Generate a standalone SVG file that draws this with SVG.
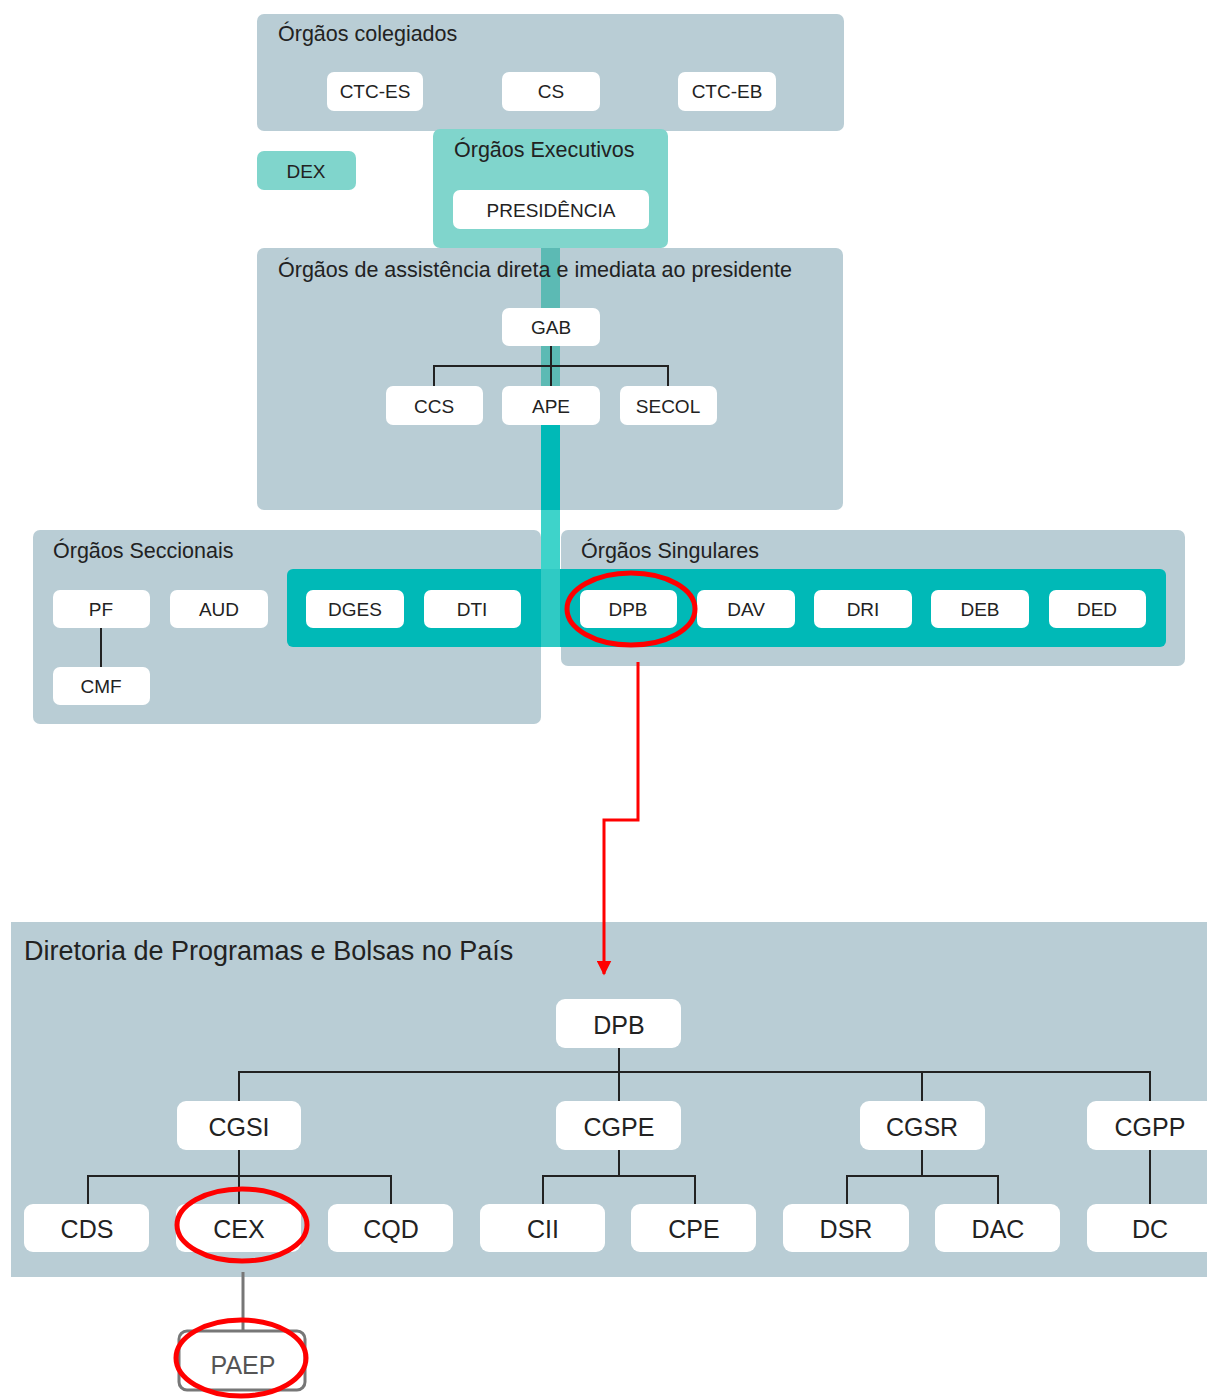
<svg xmlns="http://www.w3.org/2000/svg" width="1207" height="1399" viewBox="0 0 1207 1399">
<style>
.grp{fill:#b9cdd5}
.tl{fill:#80d5cc}
.bar{fill:#00b9b7}
.n{fill:#fff}
.t{font-family:"Liberation Sans",Arial,sans-serif;font-size:19px;fill:#222;text-anchor:middle}
.h{font-family:"Liberation Sans",Arial,sans-serif;font-size:21.5px;fill:#222}
.tb{font-family:"Liberation Sans",Arial,sans-serif;font-size:25px;fill:#222;text-anchor:middle}
.ln{stroke:#222;stroke-width:2;fill:none}
.red{stroke:#f00;stroke-width:5;fill:none}
</style>
<defs>
<marker id="arr" viewBox="0 0 10 10" refX="9" refY="5" markerWidth="5" markerHeight="5" orient="auto" markerUnits="strokeWidth"><path d="M0,0 L10,5 L0,10 z" fill="#f00"/></marker>
</defs>
<rect width="1207" height="1399" fill="#fff"/>
<g id="colegiados">
<rect class="grp" x="257" y="14" width="587" height="117" rx="7"/>
<text class="h" x="278" y="41">Órgãos colegiados</text>
</g>
<g id="assistencia">
<rect class="grp" x="257" y="248" width="586" height="262" rx="7"/>
</g>
<g id="executivos">
<rect class="tl" x="433" y="129" width="235" height="119" rx="7"/>
<text class="h" x="454" y="157">Órgãos Executivos</text>
</g>
<g id="seccionais">
<rect class="grp" x="33" y="530" width="508" height="194" rx="7"/>
<text class="h" x="53" y="558">Órgãos Seccionais</text>
</g>
<g id="singulares">
<rect class="grp" x="561" y="530" width="624" height="136" rx="7"/>
<text class="h" x="581" y="558">Órgãos Singulares</text>
</g>
<g id="band">
<rect x="541" y="248" width="19" height="177" fill="#5cbab4"/>
<rect x="541" y="425" width="19" height="85" fill="#00b9b7"/>
<rect x="541" y="510" width="19" height="60" fill="#3ed3ca"/>
<rect class="bar" x="287" y="569" width="879" height="78" rx="6"/>
<rect x="541" y="569" width="19" height="78" fill="#2fcac4"/>
</g>
<g id="assistencia-title">
<text class="h" x="278" y="277">Órgãos de assistência direta e imediata ao presidente</text>
</g>
<g id="dpb-area">
<rect class="grp" x="11" y="922" width="1196" height="355"/>
<text x="24" y="960" style="font-family:'Liberation Sans',Arial,sans-serif;font-size:27px;fill:#222">Diretoria de Programas e Bolsas no País</text>
</g>
<g id="connectors">
<path class="ln" d="M551,346 V386 M434,386 V366 H668 V386"/>
<path class="ln" d="M101,628 V667"/>
<path class="ln" d="M619,1048 V1101 M239,1101 V1072 H1150 V1101 M922,1072 V1101"/>
<path class="ln" d="M239,1150 V1204 M88,1204 V1176 H391 V1204"/>
<path class="ln" d="M619,1150 V1176 M543,1204 V1176 H695 V1204"/>
<path class="ln" d="M922,1150 V1176 M847,1204 V1176 H998 V1204"/>
<path class="ln" d="M1150,1150 V1204"/>
<path d="M243,1272 V1337" stroke="#777" stroke-width="3" fill="none"/>
<path d="M638,662 V820 H604 V974" stroke="#f00" stroke-width="3" fill="none" marker-end="url(#arr)"/>
</g>
<g id="n-ctces"><rect class="n" x="327" y="72" width="96" height="39" rx="7"/><text class="t" x="375" y="98">CTC-ES</text></g>
<g id="n-cs"><rect class="n" x="502" y="72" width="98" height="39" rx="7"/><text class="t" x="551" y="98">CS</text></g>
<g id="n-ctceb"><rect class="n" x="678" y="72" width="98" height="39" rx="7"/><text class="t" x="727" y="98">CTC-EB</text></g>
<g id="n-dex"><rect class="tl" x="257" y="151" width="99" height="39" rx="7"/><text class="t" x="306" y="178">DEX</text></g>
<g id="n-presidencia"><rect class="n" x="453" y="190" width="196" height="39" rx="7"/><text class="t" x="551" y="217">PRESIDÊNCIA</text></g>
<g id="n-gab"><rect class="n" x="502" y="308" width="98" height="38" rx="7"/><text class="t" x="551" y="334">GAB</text></g>
<g id="n-ccs"><rect class="n" x="386" y="386" width="97" height="39" rx="7"/><text class="t" x="434" y="413">CCS</text></g>
<g id="n-ape"><rect class="n" x="502" y="386" width="98" height="39" rx="7"/><text class="t" x="551" y="413">APE</text></g>
<g id="n-secol"><rect class="n" x="620" y="386" width="97" height="39" rx="7"/><text class="t" x="668" y="413">SECOL</text></g>
<g id="n-pf"><rect class="n" x="53" y="590" width="97" height="38" rx="7"/><text class="t" x="101" y="616">PF</text></g>
<g id="n-aud"><rect class="n" x="170" y="590" width="98" height="38" rx="7"/><text class="t" x="219" y="616">AUD</text></g>
<g id="n-cmf"><rect class="n" x="53" y="667" width="97" height="38" rx="7"/><text class="t" x="101" y="693">CMF</text></g>
<g id="n-dges"><rect class="n" x="306" y="590" width="98" height="38" rx="7"/><text class="t" x="355" y="616">DGES</text></g>
<g id="n-dti"><rect class="n" x="424" y="590" width="97" height="38" rx="7"/><text class="t" x="472" y="616">DTI</text></g>
<g id="n-dpb1"><rect class="n" x="580" y="590" width="97" height="38" rx="7"/><text class="t" x="628" y="616">DPB</text></g>
<g id="n-dav"><rect class="n" x="697" y="590" width="98" height="38" rx="7"/><text class="t" x="746" y="616">DAV</text></g>
<g id="n-dri"><rect class="n" x="814" y="590" width="98" height="38" rx="7"/><text class="t" x="863" y="616">DRI</text></g>
<g id="n-deb"><rect class="n" x="931" y="590" width="98" height="38" rx="7"/><text class="t" x="980" y="616">DEB</text></g>
<g id="n-ded"><rect class="n" x="1049" y="590" width="97" height="38" rx="7"/><text class="t" x="1097" y="616">DED</text></g>
<g id="n-dpb2"><rect class="n" x="556" y="999" width="125" height="49" rx="9"/><text class="tb" x="619" y="1034">DPB</text></g>
<g id="n-cgsi"><rect class="n" x="177" y="1101" width="124" height="49" rx="9"/><text class="tb" x="239" y="1136">CGSI</text></g>
<g id="n-cgpe"><rect class="n" x="556" y="1101" width="125" height="49" rx="9"/><text class="tb" x="619" y="1136">CGPE</text></g>
<g id="n-cgsr"><rect class="n" x="860" y="1101" width="125" height="49" rx="9"/><text class="tb" x="922" y="1136">CGSR</text></g>
<g id="n-cgpp"><rect class="n" x="1087" y="1101" width="130" height="49" rx="9"/><text class="tb" x="1150" y="1136">CGPP</text></g>
<g id="n-cds"><rect class="n" x="24" y="1204" width="125" height="48" rx="9"/><text class="tb" x="87" y="1238">CDS</text></g>
<g id="n-cex"><rect class="n" x="176" y="1204" width="125" height="48" rx="9"/><text class="tb" x="239" y="1238">CEX</text></g>
<g id="n-cqd"><rect class="n" x="328" y="1204" width="125" height="48" rx="9"/><text class="tb" x="391" y="1238">CQD</text></g>
<g id="n-cii"><rect class="n" x="480" y="1204" width="125" height="48" rx="9"/><text class="tb" x="543" y="1238">CII</text></g>
<g id="n-cpe"><rect class="n" x="631" y="1204" width="125" height="48" rx="9"/><text class="tb" x="694" y="1238">CPE</text></g>
<g id="n-dsr"><rect class="n" x="783" y="1204" width="126" height="48" rx="9"/><text class="tb" x="846" y="1238">DSR</text></g>
<g id="n-dac"><rect class="n" x="935" y="1204" width="125" height="48" rx="9"/><text class="tb" x="998" y="1238">DAC</text></g>
<g id="n-dc"><rect class="n" x="1087" y="1204" width="130" height="48" rx="9"/><text class="tb" x="1150" y="1238">DC</text></g>
<g id="n-paep"><rect x="179" y="1331" width="126" height="59" rx="8" fill="#fff" stroke="#777" stroke-width="3"/><text class="tb" x="243" y="1374" style="fill:#555">PAEP</text></g>
<g id="highlights">
<ellipse class="red" cx="631" cy="609" rx="64" ry="36"/>
<ellipse class="red" cx="242" cy="1225" rx="65" ry="36"/>
<ellipse class="red" cx="241" cy="1358" rx="65" ry="38"/>
</g>
</svg>
